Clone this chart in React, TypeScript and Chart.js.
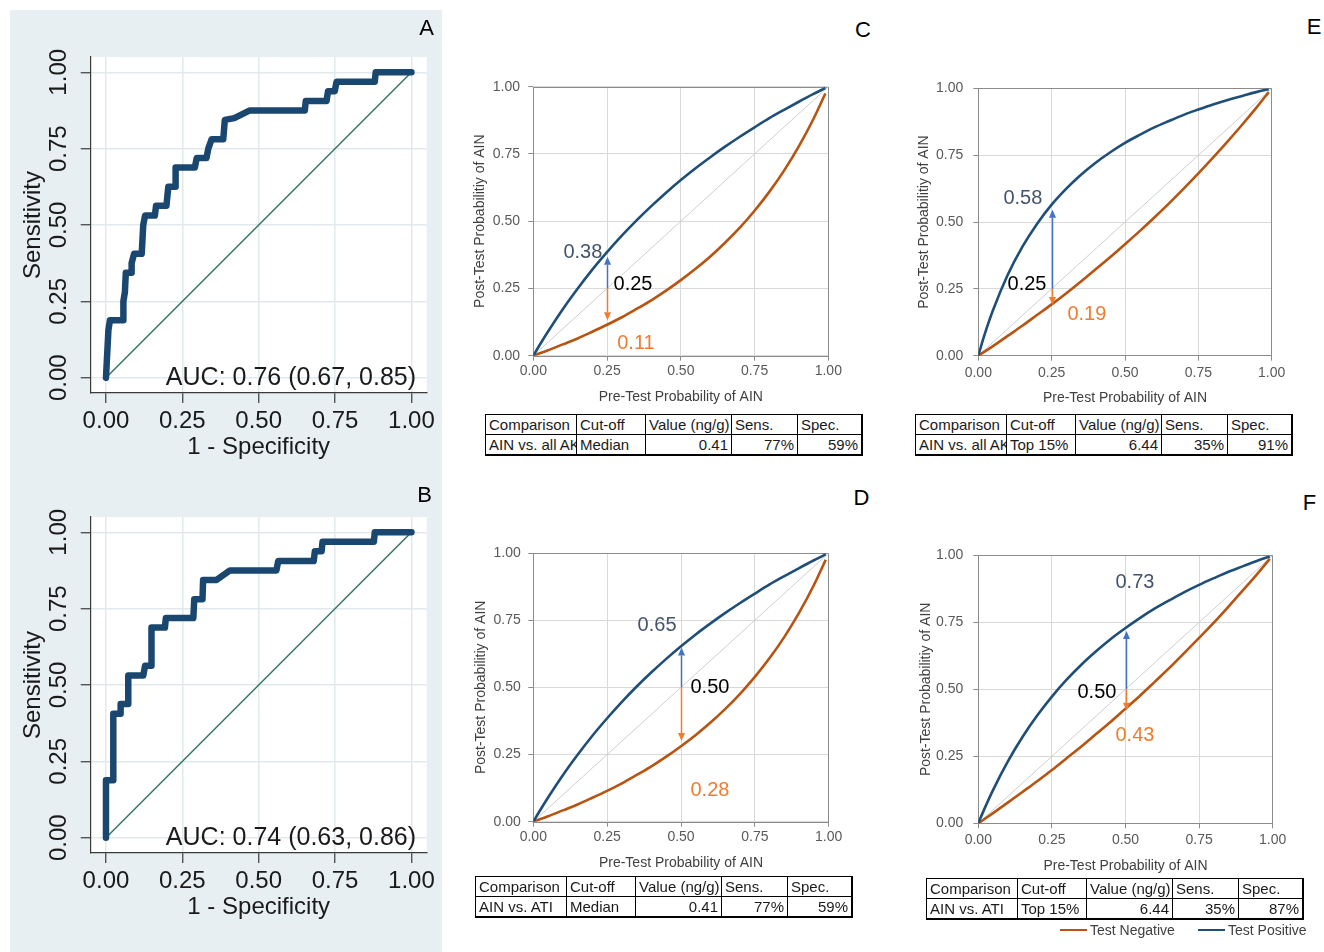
import React, { useEffect, useRef } from 'react';
import { Chart, registerables } from 'chart.js';

Chart.register(...registerables);

const FONT = "'Liberation Sans', Arial, Helvetica, sans-serif";

/* ---------------- Panels A / B : ROC curves ---------------- */
const rocTickValues = [0, 0.25, 0.5, 0.75, 1];
const rocTickLabels = ['0.00', '0.25', '0.50', '0.75', '1.00'];
const rocReference = [0, 1];

const rocAFpr = [0, 0.008, 0.013, 0.057, 0.057, 0.062, 0.065, 0.084, 0.084, 0.092, 0.117, 0.122, 0.128, 0.16, 0.164, 0.198, 0.204, 0.226, 0.228, 0.291, 0.297, 0.329, 0.335, 0.346, 0.384, 0.389, 0.42, 0.471, 0.651, 0.654, 0.722, 0.727, 0.749, 0.755, 0.88, 0.883, 1];
const rocATpr = [0, 0.156, 0.188, 0.188, 0.25, 0.281, 0.344, 0.344, 0.375, 0.406, 0.406, 0.5, 0.531, 0.531, 0.563, 0.563, 0.625, 0.625, 0.688, 0.688, 0.719, 0.719, 0.75, 0.781, 0.781, 0.844, 0.85, 0.875, 0.875, 0.906, 0.906, 0.938, 0.938, 0.969, 0.969, 1, 1];

const rocBFpr = [0, 0, 0.024, 0.024, 0.046, 0.048, 0.073, 0.073, 0.122, 0.128, 0.149, 0.149, 0.193, 0.196, 0.286, 0.289, 0.316, 0.318, 0.362, 0.406, 0.558, 0.564, 0.68, 0.684, 0.706, 0.709, 0.877, 0.88, 1];
const rocBTpr = [0, 0.188, 0.188, 0.406, 0.406, 0.438, 0.438, 0.531, 0.531, 0.563, 0.563, 0.688, 0.688, 0.719, 0.719, 0.781, 0.781, 0.844, 0.844, 0.875, 0.875, 0.906, 0.906, 0.938, 0.938, 0.969, 0.969, 1, 1];

const aucTextA = 'AUC: 0.76 (0.67, 0.85)';
const aucTextB = 'AUC: 0.74 (0.63, 0.86)';

/* ---------------- Panels C–F : post-test probability ---------------- */
const probTickValues = [0, 0.25, 0.5, 0.75, 1];
const probTickLabels = ['0.00', '0.25', '0.50', '0.75', '1.00'];
const preTestProb = [0, 0.02, 0.05, 0.1, 0.15, 0.2, 0.25, 0.3, 0.35, 0.4, 0.45, 0.5, 0.55, 0.6, 0.65, 0.7, 0.75, 0.8, 0.85, 0.9, 0.95, 0.99];

// Median cut-off (panels C and D share the same curves)
const postPosMedian = [0, 0.037, 0.09, 0.173, 0.249, 0.32, 0.385, 0.446, 0.503, 0.556, 0.606, 0.653, 0.697, 0.738, 0.777, 0.814, 0.849, 0.883, 0.914, 0.944, 0.973, 0.995];
const postNegMedian = [0, 0.008, 0.02, 0.042, 0.064, 0.089, 0.115, 0.143, 0.174, 0.206, 0.242, 0.281, 0.323, 0.369, 0.42, 0.476, 0.539, 0.609, 0.688, 0.778, 0.881, 0.975];
// Top 15% cut-off, AIN vs. all AKI (panel E)
const postPosTopAll = [0, 0.074, 0.17, 0.302, 0.407, 0.493, 0.565, 0.625, 0.677, 0.722, 0.761, 0.796, 0.826, 0.854, 0.878, 0.901, 0.921, 0.94, 0.957, 0.972, 0.987, 0.997];
const postNegTopAll = [0, 0.014, 0.036, 0.074, 0.112, 0.152, 0.192, 0.234, 0.278, 0.323, 0.369, 0.417, 0.466, 0.517, 0.57, 0.625, 0.682, 0.741, 0.802, 0.865, 0.931, 0.986];
// Top 15% cut-off, AIN vs. ATI (panel F)
const postPosTopAti = [0, 0.052, 0.124, 0.23, 0.322, 0.402, 0.473, 0.536, 0.592, 0.642, 0.688, 0.729, 0.767, 0.802, 0.833, 0.863, 0.89, 0.915, 0.939, 0.96, 0.981, 0.996];
const postNegTopAti = [0, 0.015, 0.038, 0.077, 0.117, 0.157, 0.199, 0.243, 0.287, 0.333, 0.379, 0.428, 0.477, 0.529, 0.581, 0.636, 0.692, 0.749, 0.809, 0.871, 0.934, 0.987];
const noChangeLine = [0, 1];

const seriesNames = ['Test Positive', 'Test Negative'];

// arrows: [pre-test, post-test tip if positive, post-test tip if negative]
const arrowC = [0.25, 0.368, 0.132];
const arrowD = [0.5, 0.648, 0.3];
const arrowE = [0.25, 0.546, 0.19];
const arrowF = [0.5, 0.718, 0.42];

// annotation labels: [positive, pre-test, negative]
const labelsC = ['0.38', '0.25', '0.11'];
const labelXC = [0.168, 0.338, 0.348];
const labelYC = [0.383, 0.265, 0.047];
const labelsD = ['0.65', '0.50', '0.28'];
const labelXD = [0.419, 0.598, 0.598];
const labelYD = [0.73, 0.499, 0.118];
const labelsE = ['0.58', '0.25', '0.19'];
const labelXE = [0.152, 0.166, 0.37];
const labelYE = [0.59, 0.268, 0.154];
const labelsF = ['0.73', '0.50', '0.43'];
const labelXF = [0.532, 0.403, 0.532];
const labelYF = [0.899, 0.489, 0.326];

const tableHeader = ['Comparison', 'Cut-off', 'Value (ng/g)', 'Sens.', 'Spec.'];
const tableRowC = ['AIN vs. all AKI', 'Median', '0.41', '77%', '59%'];
const tableRowD = ['AIN vs. ATI', 'Median', '0.41', '77%', '59%'];
const tableRowE = ['AIN vs. all AKI', 'Top 15%', '6.44', '35%', '91%'];
const tableRowF = ['AIN vs. ATI', 'Top 15%', '6.44', '35%', '87%'];

/* ---------------- styles ---------------- */
const STATA_NAVY = '#1a476f';
const STATA_REF = '#367563';
const STATA_TEXT = '#1a1a1a';
const POS_COLOR = '#1f4e79';
const NEG_COLOR = '#b85412';
const POS_ARROW = '#4472c4';
const NEG_ARROW = '#ed7d31';
const LABEL_COLORS = ['#44546a', '#000000', '#ed7d31'];

/* ---------------- plugins ---------------- */
function rocDecor(auc: string) {
  return {
    id: 'rocDecor',
    beforeDraw(chart: any) {
      const { ctx, chartArea: a } = chart;
      ctx.save();
      ctx.fillStyle = '#ffffff';
      ctx.fillRect(a.left, a.top, a.right - a.left, a.bottom - a.top);
      ctx.restore();
    },
    afterDraw(chart: any) {
      const { ctx, chartArea: a, scales } = chart;
      const x = scales.x;
      const y = scales.y;
      ctx.save();
      ctx.fillStyle = STATA_TEXT;
      ctx.font = `24px ${FONT}`;
      ctx.textAlign = 'center';
      ctx.textBaseline = 'middle';
      rocTickValues.forEach((v, i) => {
        ctx.save();
        ctx.translate(a.left - 31.7, y.getPixelForValue(v));
        ctx.rotate(-Math.PI / 2);
        ctx.fillText(rocTickLabels[i], 0, 0);
        ctx.restore();
      });
      ctx.font = `25px ${FONT}`;
      ctx.textAlign = 'right';
      ctx.fillText(auc, x.getPixelForValue(1.015), y.getPixelForValue(0));
      ctx.restore();
    },
  };
}

function drawArrow(ctx: any, x: number, y0: number, y1: number, color: string) {
  const dir = y1 < y0 ? -1 : 1;
  const head = 8;
  const half = 3.5;
  ctx.strokeStyle = color;
  ctx.fillStyle = color;
  ctx.lineWidth = 1.5;
  ctx.beginPath();
  ctx.moveTo(x, y0);
  ctx.lineTo(x, y1 - dir * head);
  ctx.stroke();
  ctx.beginPath();
  ctx.moveTo(x, y1);
  ctx.lineTo(x - half, y1 - dir * head);
  ctx.lineTo(x + half, y1 - dir * head);
  ctx.closePath();
  ctx.fill();
}

function faganDecor(arrow: number[], labels: string[], lx: number[], ly: number[]) {
  return {
    id: 'faganDecor',
    beforeDatasetsDraw(chart: any) {
      const { ctx, chartArea: a } = chart;
      ctx.save();
      ctx.strokeStyle = '#8c8c8c';
      ctx.lineWidth = 1;
      ctx.strokeRect(Math.round(a.left) + 0.5, Math.round(a.top) + 0.5, Math.round(a.right - a.left), Math.round(a.bottom - a.top));
      ctx.restore();
    },
    afterDatasetsDraw(chart: any) {
      const { ctx, scales } = chart;
      const x = scales.x;
      const y = scales.y;
      ctx.save();
      const px = Math.round(x.getPixelForValue(arrow[0])) + 0.5;
      const p0 = y.getPixelForValue(arrow[0]);
      drawArrow(ctx, px, p0, y.getPixelForValue(arrow[1]), POS_ARROW);
      drawArrow(ctx, px, p0, y.getPixelForValue(arrow[2]), NEG_ARROW);
      ctx.font = `20px ${FONT}`;
      ctx.textAlign = 'center';
      ctx.textBaseline = 'middle';
      labels.forEach((t, i) => {
        ctx.fillStyle = LABEL_COLORS[i];
        ctx.fillText(t, x.getPixelForValue(lx[i]), y.getPixelForValue(ly[i]));
      });
      ctx.restore();
    },
  };
}

/* ---------------- configs ---------------- */
type Lay = { padding: any; yW: number; xH: number; yTitlePad: number; xTickPad: number; yTickPad: number };

function rocConfig(fpr: number[], tpr: number[], auc: string, lay: Lay) {
  const points = fpr.map((v, i) => ({ x: v, y: tpr[i] }));
  const ref = rocReference.map((v) => ({ x: v, y: v }));
  const setTicks = (s: any) => {
    s.ticks = rocTickValues.map((v) => ({ value: v }));
  };
  return {
    type: 'scatter',
    data: {
      datasets: [
        { label: 'ROC', data: points, showLine: true, borderColor: STATA_NAVY, backgroundColor: STATA_NAVY, borderWidth: 6.5, pointRadius: 0, borderJoinStyle: 'round', borderCapStyle: 'round', tension: 0 },
        { label: 'Reference', data: ref, showLine: true, borderColor: STATA_REF, backgroundColor: STATA_REF, borderWidth: 1.5, pointRadius: 0 },
      ],
    },
    options: {
      responsive: false,
      animation: false,
      devicePixelRatio: 1,
      events: [],
      layout: { padding: lay.padding },
      plugins: { legend: { display: false }, tooltip: { enabled: false } },
      scales: {
        x: {
          type: 'linear', min: -0.05, max: 1.05,
          afterBuildTicks: setTicks,
          afterFit: (s: any) => { s.height = lay.xH; },
          ticks: { font: { size: 24, family: FONT }, color: STATA_TEXT, padding: lay.xTickPad, maxRotation: 0, callback: (_v: any, i: number) => rocTickLabels[i] },
          grid: { color: '#e1e9ed', lineWidth: 1.5, drawTicks: true, tickLength: 10, tickColor: '#3a3a3a', tickWidth: 1.2 },
          border: { display: true, color: '#3a3a3a', width: 1.2 },
          title: { display: true, text: '1 - Specificity', font: { size: 24, family: FONT }, color: STATA_TEXT, padding: { top: 0, bottom: 0 } },
        },
        y: {
          type: 'linear', min: -0.05, max: 1.05,
          afterBuildTicks: setTicks,
          afterFit: (s: any) => { s.width = lay.yW; },
          ticks: { display: false },
          grid: { color: '#e1e9ed', lineWidth: 1.5, drawTicks: true, tickLength: 10, tickColor: '#3a3a3a', tickWidth: 1.2 },
          border: { display: true, color: '#3a3a3a', width: 1.2 },
          title: { display: true, text: 'Sensitivity', font: { size: 24, family: FONT }, color: STATA_TEXT, padding: { top: lay.yTitlePad, bottom: 0 } },
        },
      },
    },
    plugins: [rocDecor(auc)],
  };
}

function faganConfig(pos: number[], neg: number[], arrow: number[], labels: string[], lx: number[], ly: number[], lay: Lay) {
  const setTicks = (s: any) => {
    s.ticks = probTickValues.map((v) => ({ value: v }));
  };
  const tickFont = { size: 14, family: FONT };
  return {
    type: 'scatter',
    data: {
      datasets: [
        { label: seriesNames[0], data: preTestProb.map((p, i) => ({ x: p, y: pos[i] })), showLine: true, borderColor: POS_COLOR, backgroundColor: POS_COLOR, borderWidth: 2.6, pointRadius: 0, cubicInterpolationMode: 'monotone' },
        { label: seriesNames[1], data: preTestProb.map((p, i) => ({ x: p, y: neg[i] })), showLine: true, borderColor: NEG_COLOR, backgroundColor: NEG_COLOR, borderWidth: 2.6, pointRadius: 0, cubicInterpolationMode: 'monotone' },
        { label: 'No change', data: noChangeLine.map((v) => ({ x: v, y: v })), showLine: true, borderColor: '#cfcfcf', backgroundColor: '#cfcfcf', borderWidth: 1, pointRadius: 0 },
      ],
    },
    options: {
      responsive: false,
      animation: false,
      devicePixelRatio: 1,
      events: [],
      layout: { padding: lay.padding },
      plugins: { legend: { display: false }, tooltip: { enabled: false } },
      scales: {
        x: {
          type: 'linear', min: 0, max: 1,
          afterBuildTicks: setTicks,
          afterFit: (s: any) => { s.height = lay.xH; },
          ticks: { font: tickFont, color: '#595959', padding: lay.xTickPad, maxRotation: 0, callback: (_v: any, i: number) => probTickLabels[i] },
          grid: { color: '#d9d9d9', lineWidth: 1, drawTicks: true, tickLength: 5, tickColor: '#8c8c8c' },
          border: { display: false },
          title: { display: true, text: 'Pre-Test Probability of AIN', font: tickFont, color: '#404040', padding: { top: 0, bottom: 0 } },
        },
        y: {
          type: 'linear', min: 0, max: 1,
          afterBuildTicks: setTicks,
          afterFit: (s: any) => { s.width = lay.yW; },
          ticks: { font: tickFont, color: '#595959', padding: lay.yTickPad, callback: (_v: any, i: number) => probTickLabels[i] },
          grid: { color: '#d9d9d9', lineWidth: 1, drawTicks: true, tickLength: 5, tickColor: '#8c8c8c' },
          border: { display: false },
          title: { display: true, text: 'Post-Test Probabilitiy of AIN', font: tickFont, color: '#404040', padding: { top: lay.yTitlePad, bottom: 0 } },
        },
      },
    },
    plugins: [faganDecor(arrow, labels, lx, ly)],
  };
}

/* ---------------- components ---------------- */
function ChartCanvas({ left, top, width, height, make }: any) {
  const ref = useRef<HTMLCanvasElement | null>(null);
  useEffect(() => {
    const chart = new Chart(ref.current as HTMLCanvasElement, make());
    return () => chart.destroy();
  }, []);
  return <canvas ref={ref} width={width} height={height} style={{ position: 'absolute', left, top, width, height }} />;
}

const COL_W = [91, 69, 86, 66, 64];

function DataTable({ left, top, row }: any) {
  const offsets = COL_W.map((_, i) => COL_W.slice(0, i).reduce((a, b) => a + b, 0));
  const cell = (text: string, i: number, r: number) => (
    <div
      key={`${r}-${i}`}
      style={{
        position: 'absolute', left: offsets[i], top: r * 20, width: COL_W[i], height: 20,
        boxSizing: 'border-box', borderLeft: '1px solid #000', borderTop: '1px solid #000',
        padding: '0 3px 0 3px', fontSize: 15, lineHeight: '19px', whiteSpace: 'nowrap', overflow: 'hidden',
        textAlign: r === 1 && i >= 2 ? 'right' : 'left', color: '#1a1a1a',
      }}
    >
      {text}
    </div>
  );
  return (
    <div style={{ position: 'absolute', left, top, width: 378, height: 42, boxSizing: 'border-box', borderRight: '2px solid #000', borderBottom: '2px solid #000', fontFamily: FONT }}>
      {tableHeader.map((t, i) => cell(t, i, 0))}
      {row.map((t: string, i: number) => cell(t, i, 1))}
    </div>
  );
}

function PanelLetter({ cx, cy, text }: any) {
  return (
    <div style={{ position: 'absolute', left: cx - 20, top: cy - 11, width: 40, textAlign: 'center', fontSize: 22, lineHeight: '22px', fontFamily: FONT, color: '#000' }}>
      {text}
    </div>
  );
}

const layA: Lay = { padding: { top: 47, right: 15.3, bottom: 3.6, left: 0 }, yW: 80.7, xH: 68.4, yTitlePad: 8.6, xTickPad: 3.6, yTickPad: 0 };
const layB: Lay = { padding: { top: 47, right: 15.3, bottom: 13.6, left: 0 }, yW: 80.7, xH: 68.4, yTitlePad: 8.6, xTickPad: 3.6, yTickPad: 0 };
const layC: Lay = { padding: { top: 15, right: 41.7, bottom: 4.6, left: 0 }, yW: 63.3, xH: 49.7, yTitlePad: 2.1, xTickPad: 2, yTickPad: 8.3 };
const layD: Lay = { padding: { top: 14.7, right: 41.3, bottom: 5.6, left: 0 }, yW: 63.3, xH: 49.7, yTitlePad: 2.6, xTickPad: 2, yTickPad: 7.6 };
const layE: Lay = { padding: { top: 15, right: 52.3, bottom: 3.6, left: 0 }, yW: 68.3, xH: 50.7, yTitlePad: 5.6, xTickPad: 3.9, yTickPad: 10 };
const layF: Lay = { padding: { top: 15.7, right: 51.3, bottom: 2.6, left: 0 }, yW: 68.3, xH: 51.1, yTitlePad: 7.6, xTickPad: 3.3, yTickPad: 10 };

export default function App() {
  return (
    <div style={{ position: 'absolute', left: 0, top: 0, width: 1324, height: 952, background: '#ffffff', overflow: 'hidden', fontFamily: FONT }}>
      <div style={{ position: 'absolute', left: 10, top: 10, width: 432, height: 942, background: '#e8eff2' }} />

      <ChartCanvas left={10} top={10} width={432} height={455} make={() => rocConfig(rocAFpr, rocATpr, aucTextA, layA)} />
      <ChartCanvas left={10} top={470} width={432} height={465} make={() => rocConfig(rocBFpr, rocBTpr, aucTextB, layB)} />

      <ChartCanvas left={470} top={70} width={400} height={340} make={() => faganConfig(postPosMedian, postNegMedian, arrowC, labelsC, labelXC, labelYC, layC)} />
      <ChartCanvas left={470} top={537} width={400} height={340} make={() => faganConfig(postPosMedian, postNegMedian, arrowD, labelsD, labelXD, labelYD, layD)} />
      <ChartCanvas left={910} top={70} width={414} height={340} make={() => faganConfig(postPosTopAll, postNegTopAll, arrowE, labelsE, labelXE, labelYE, layE)} />
      <ChartCanvas left={910} top={537} width={414} height={340} make={() => faganConfig(postPosTopAti, postNegTopAti, arrowF, labelsF, labelXF, labelYF, layF)} />

      <DataTable left={485} top={414} row={tableRowC} />
      <DataTable left={915} top={414} row={tableRowE} />
      <DataTable left={475} top={876} row={tableRowD} />
      <DataTable left={926} top={878} row={tableRowF} />

      <PanelLetter cx={426.5} cy={27.5} text="A" />
      <PanelLetter cx={424.5} cy={495} text="B" />
      <PanelLetter cx={863} cy={30} text="C" />
      <PanelLetter cx={861.5} cy={497.5} text="D" />
      <PanelLetter cx={1314} cy={27} text="E" />
      <PanelLetter cx={1309.5} cy={502.5} text="F" />

      <div style={{ position: 'absolute', left: 1060, top: 928.8, width: 27, height: 2.6, background: NEG_COLOR }} />
      <div style={{ position: 'absolute', left: 1090, top: 921, fontSize: 14, lineHeight: '18px', color: '#404040', whiteSpace: 'nowrap' }}>{seriesNames[1]}</div>
      <div style={{ position: 'absolute', left: 1198, top: 928.8, width: 27, height: 2.6, background: POS_COLOR }} />
      <div style={{ position: 'absolute', left: 1228, top: 921, fontSize: 14, lineHeight: '18px', color: '#404040', whiteSpace: 'nowrap' }}>{seriesNames[0]}</div>
    </div>
  );
}
